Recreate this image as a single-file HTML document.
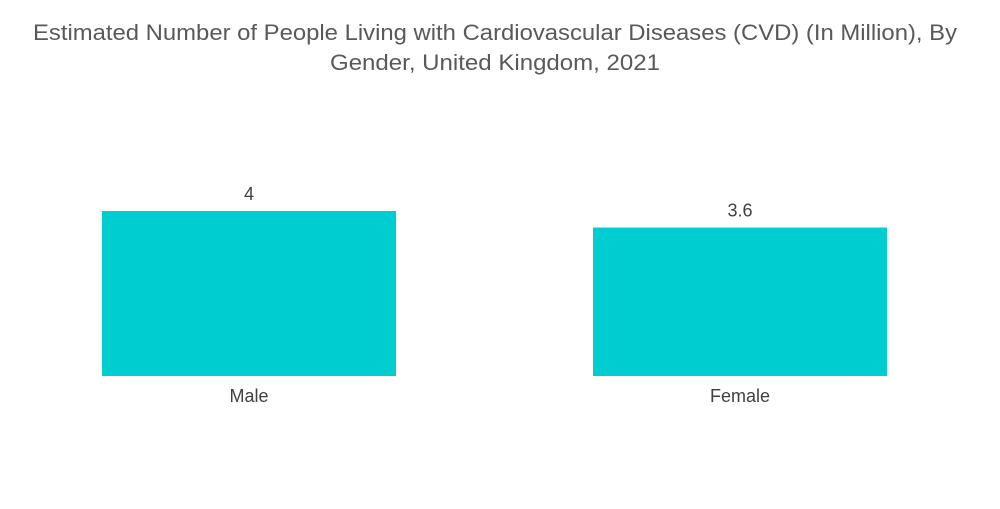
<!DOCTYPE html>
<html>
<head>
<meta charset="utf-8">
<style>
  html, body { margin: 0; padding: 0; background: #ffffff; }
  body { width: 1000px; height: 504px; overflow: hidden; font-family: "Liberation Sans", sans-serif; }
  svg text { font-family: "Liberation Sans", sans-serif; }
</style>
</head>
<body>
<svg id="chart" width="1000" height="504" viewBox="0 0 1000 504" xmlns="http://www.w3.org/2000/svg">
  <g>
    <text x="495" y="40" text-anchor="middle" font-size="22" fill="#595959" textLength="924" lengthAdjust="spacingAndGlyphs">Estimated Number of People Living with Cardiovascular Diseases (CVD) (In Million), By</text>
    <text x="495" y="70" text-anchor="middle" font-size="22" fill="#595959" textLength="330" lengthAdjust="spacingAndGlyphs">Gender, United Kingdom, 2021</text>
  </g>
  <g id="bars"></g>
</svg>
<script>
const categories = ["Male", "Female"];
const values = [4, 3.6];
const valueLabels = ["4", "3.6"];

const baseY = 376;
const pxPerUnit = 41.25;
const firstLeft = 102, step = 491, barW = 294;
function yScale(v) { return baseY - v * pxPerUnit; }
function xScale(i) { return firstLeft + i * step; }

const ns = "http://www.w3.org/2000/svg";
const g = document.getElementById("bars");
categories.forEach((c, i) => {
  const x = xScale(i), y = yScale(values[i]);
  const r = document.createElementNS(ns, "rect");
  r.setAttribute("x", x); r.setAttribute("y", y);
  r.setAttribute("width", barW); r.setAttribute("height", baseY - y);
  r.setAttribute("fill", "#00CDD0");
  
  
  g.appendChild(r);

  const vt = document.createElementNS(ns, "text");
  vt.setAttribute("x", x + barW / 2); vt.setAttribute("y", y - 11);
  vt.setAttribute("text-anchor", "middle"); vt.setAttribute("font-size", "18");
  vt.setAttribute("fill", "#404040");
  vt.textContent = valueLabels[i];
  
  
  g.appendChild(vt);

  const ct = document.createElementNS(ns, "text");
  ct.setAttribute("x", x + barW / 2); ct.setAttribute("y", 402);
  ct.setAttribute("text-anchor", "middle"); ct.setAttribute("font-size", "18");
  ct.setAttribute("fill", "#404040");
  ct.textContent = c;
  
  
  g.appendChild(ct);
});
</script>
</body>
</html>
